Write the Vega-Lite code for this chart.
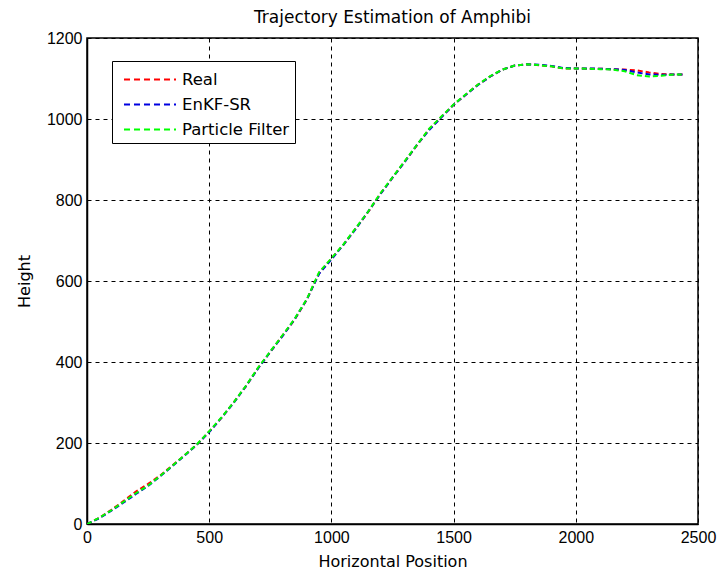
{
  "$schema": "https://vega.github.io/schema/vega-lite/v6.json",
  "autosize": "none",
  "width": 611,
  "height": 486,
  "padding": {"left": 87, "top": 38, "right": 21, "bottom": 48},
  "background": "white",
  "title": {"text": "Trajectory Estimation of Amphibi", "fontSize": 17, "fontWeight": "normal", "font": "DejaVu Sans", "color": "black", "offset": 3},
  "config": {
    "view": {"stroke": "black", "strokeWidth": 1.5},
    "axis": {
      "labelFont": "Liberation Sans", "labelFontSize": 16, "labelColor": "black",
      "titleFont": "DejaVu Sans", "titleFontSize": 16, "titleFontWeight": "normal", "titleColor": "black",
      "domainColor": "black", "domainWidth": 1.5,
      "grid": true, "gridColor": "black", "gridOpacity": 1, "gridDash": [4, 4], "gridWidth": 1,
      "ticks": false, "format": "d"
    }
  },
  "data": {
    "values": [
      {"x":0,"y":0,"series":"Real"},{"x":50,"y":15,"series":"Real"},{"x":100,"y":35,"series":"Real"},{"x":150,"y":57,"series":"Real"},{"x":200,"y":80,"series":"Real"},{"x":250,"y":99,"series":"Real"},{"x":300,"y":120,"series":"Real"},{"x":350,"y":145,"series":"Real"},{"x":400,"y":170,"series":"Real"},{"x":450,"y":196,"series":"Real"},{"x":500,"y":228,"series":"Real"},{"x":550,"y":262,"series":"Real"},{"x":600,"y":300,"series":"Real"},{"x":650,"y":340,"series":"Real"},{"x":700,"y":385,"series":"Real"},{"x":750,"y":425,"series":"Real"},{"x":800,"y":465,"series":"Real"},{"x":850,"y":505,"series":"Real"},{"x":900,"y":555,"series":"Real"},{"x":950,"y":620,"series":"Real"},{"x":1000,"y":655,"series":"Real"},{"x":1050,"y":690,"series":"Real"},{"x":1100,"y":730,"series":"Real"},{"x":1150,"y":770,"series":"Real"},{"x":1200,"y":815,"series":"Real"},{"x":1250,"y":855,"series":"Real"},{"x":1300,"y":895,"series":"Real"},{"x":1350,"y":935,"series":"Real"},{"x":1400,"y":975,"series":"Real"},{"x":1450,"y":1005,"series":"Real"},{"x":1500,"y":1035,"series":"Real"},{"x":1550,"y":1060,"series":"Real"},{"x":1600,"y":1085,"series":"Real"},{"x":1650,"y":1105,"series":"Real"},{"x":1700,"y":1122,"series":"Real"},{"x":1750,"y":1132,"series":"Real"},{"x":1800,"y":1135,"series":"Real"},{"x":1850,"y":1133,"series":"Real"},{"x":1900,"y":1130,"series":"Real"},{"x":1950,"y":1125,"series":"Real"},{"x":2000,"y":1125,"series":"Real"},{"x":2050,"y":1124,"series":"Real"},{"x":2100,"y":1124,"series":"Real"},{"x":2150,"y":1123,"series":"Real"},{"x":2200,"y":1122,"series":"Real"},{"x":2250,"y":1120,"series":"Real"},{"x":2300,"y":1115,"series":"Real"},{"x":2350,"y":1111,"series":"Real"},{"x":2400,"y":1110,"series":"Real"},{"x":2440,"y":1110,"series":"Real"},
      {"x":0,"y":0,"series":"EnKF-SR"},{"x":50,"y":14,"series":"EnKF-SR"},{"x":100,"y":33,"series":"EnKF-SR"},{"x":150,"y":53,"series":"EnKF-SR"},{"x":200,"y":74,"series":"EnKF-SR"},{"x":250,"y":94,"series":"EnKF-SR"},{"x":300,"y":118,"series":"EnKF-SR"},{"x":350,"y":143,"series":"EnKF-SR"},{"x":400,"y":169,"series":"EnKF-SR"},{"x":450,"y":196,"series":"EnKF-SR"},{"x":500,"y":227,"series":"EnKF-SR"},{"x":550,"y":262,"series":"EnKF-SR"},{"x":600,"y":299,"series":"EnKF-SR"},{"x":650,"y":340,"series":"EnKF-SR"},{"x":700,"y":384,"series":"EnKF-SR"},{"x":750,"y":425,"series":"EnKF-SR"},{"x":800,"y":464,"series":"EnKF-SR"},{"x":850,"y":506,"series":"EnKF-SR"},{"x":900,"y":555,"series":"EnKF-SR"},{"x":950,"y":618,"series":"EnKF-SR"},{"x":1000,"y":653,"series":"EnKF-SR"},{"x":1050,"y":690,"series":"EnKF-SR"},{"x":1100,"y":729,"series":"EnKF-SR"},{"x":1150,"y":771,"series":"EnKF-SR"},{"x":1200,"y":814,"series":"EnKF-SR"},{"x":1250,"y":855,"series":"EnKF-SR"},{"x":1300,"y":894,"series":"EnKF-SR"},{"x":1350,"y":936,"series":"EnKF-SR"},{"x":1400,"y":973,"series":"EnKF-SR"},{"x":1450,"y":1004,"series":"EnKF-SR"},{"x":1500,"y":1035,"series":"EnKF-SR"},{"x":1550,"y":1060,"series":"EnKF-SR"},{"x":1600,"y":1084,"series":"EnKF-SR"},{"x":1650,"y":1105,"series":"EnKF-SR"},{"x":1700,"y":1122,"series":"EnKF-SR"},{"x":1750,"y":1132,"series":"EnKF-SR"},{"x":1800,"y":1135,"series":"EnKF-SR"},{"x":1850,"y":1134,"series":"EnKF-SR"},{"x":1900,"y":1131,"series":"EnKF-SR"},{"x":1950,"y":1126,"series":"EnKF-SR"},{"x":2000,"y":1125,"series":"EnKF-SR"},{"x":2050,"y":1125,"series":"EnKF-SR"},{"x":2100,"y":1124,"series":"EnKF-SR"},{"x":2150,"y":1123,"series":"EnKF-SR"},{"x":2200,"y":1121,"series":"EnKF-SR"},{"x":2250,"y":1115,"series":"EnKF-SR"},{"x":2300,"y":1110,"series":"EnKF-SR"},{"x":2350,"y":1109,"series":"EnKF-SR"},{"x":2400,"y":1110,"series":"EnKF-SR"},{"x":2440,"y":1110,"series":"EnKF-SR"},
      {"x":0,"y":0,"series":"Particle Filter"},{"x":50,"y":15,"series":"Particle Filter"},{"x":100,"y":34,"series":"Particle Filter"},{"x":150,"y":55,"series":"Particle Filter"},{"x":200,"y":76,"series":"Particle Filter"},{"x":250,"y":95,"series":"Particle Filter"},{"x":300,"y":119,"series":"Particle Filter"},{"x":350,"y":144,"series":"Particle Filter"},{"x":400,"y":170,"series":"Particle Filter"},{"x":450,"y":197,"series":"Particle Filter"},{"x":500,"y":229,"series":"Particle Filter"},{"x":550,"y":263,"series":"Particle Filter"},{"x":600,"y":300,"series":"Particle Filter"},{"x":650,"y":341,"series":"Particle Filter"},{"x":700,"y":386,"series":"Particle Filter"},{"x":750,"y":426,"series":"Particle Filter"},{"x":800,"y":466,"series":"Particle Filter"},{"x":850,"y":507,"series":"Particle Filter"},{"x":900,"y":556,"series":"Particle Filter"},{"x":950,"y":622,"series":"Particle Filter"},{"x":1000,"y":656,"series":"Particle Filter"},{"x":1050,"y":691,"series":"Particle Filter"},{"x":1100,"y":731,"series":"Particle Filter"},{"x":1150,"y":771,"series":"Particle Filter"},{"x":1200,"y":816,"series":"Particle Filter"},{"x":1250,"y":856,"series":"Particle Filter"},{"x":1300,"y":896,"series":"Particle Filter"},{"x":1350,"y":936,"series":"Particle Filter"},{"x":1400,"y":976,"series":"Particle Filter"},{"x":1450,"y":1006,"series":"Particle Filter"},{"x":1500,"y":1036,"series":"Particle Filter"},{"x":1550,"y":1061,"series":"Particle Filter"},{"x":1600,"y":1085,"series":"Particle Filter"},{"x":1650,"y":1106,"series":"Particle Filter"},{"x":1700,"y":1122,"series":"Particle Filter"},{"x":1750,"y":1132,"series":"Particle Filter"},{"x":1800,"y":1135,"series":"Particle Filter"},{"x":1850,"y":1133,"series":"Particle Filter"},{"x":1900,"y":1130,"series":"Particle Filter"},{"x":1950,"y":1125,"series":"Particle Filter"},{"x":2000,"y":1125,"series":"Particle Filter"},{"x":2050,"y":1124,"series":"Particle Filter"},{"x":2100,"y":1123,"series":"Particle Filter"},{"x":2150,"y":1122,"series":"Particle Filter"},{"x":2200,"y":1118,"series":"Particle Filter"},{"x":2250,"y":1108,"series":"Particle Filter"},{"x":2300,"y":1105,"series":"Particle Filter"},{"x":2350,"y":1107,"series":"Particle Filter"},{"x":2400,"y":1110,"series":"Particle Filter"},{"x":2440,"y":1110,"series":"Particle Filter"}
    ]
  },
  "mark": {"type": "line", "strokeWidth": 2, "strokeDash": [5, 3], "clip": true},
  "encoding": {
    "x": {"field": "x", "type": "quantitative", "title": "Horizontal Position",
      "scale": {"domain": [0, 2500], "nice": false},
      "axis": {"values": [0, 500, 1000, 1500, 2000, 2500], "labelPadding": 5, "titlePadding": 8, "labelFlush": false}},
    "y": {"field": "y", "type": "quantitative", "title": "Height",
      "scale": {"domain": [0, 1200], "nice": false},
      "axis": {"values": [0, 200, 400, 600, 800, 1000, 1200], "labelPadding": 5, "titlePadding": 14, "labelFlush": false}},
    "color": {"field": "series", "type": "nominal", "sort": ["Real", "EnKF-SR", "Particle Filter"],
      "scale": {"domain": ["Real", "EnKF-SR", "Particle Filter"], "range": ["#ff0000", "#0000e0", "#00ff00"]},
      "legend": {"title": null, "orient": "none", "legendX": 25, "legendY": 23,
        "fillColor": "white", "strokeColor": "black", "padding": 5, "rowPadding": 3,
        "symbolType": "M-0.52,0H3.64", "symbolSize": 625, "symbolStrokeWidth": 2, "symbolDash": [6, 4],
        "labelFont": "DejaVu Sans", "labelFontSize": 16.5, "labelColor": "black", "labelOffset": 38,
        "labelLimit": 250}}
  }
}
